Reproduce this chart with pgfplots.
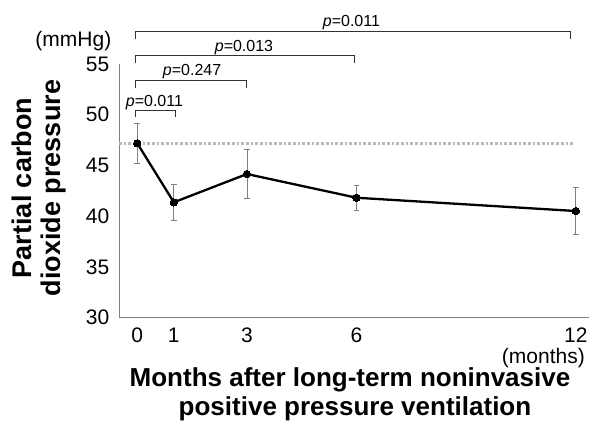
\documentclass[border=0pt]{standalone}
\usepackage{fontspec}
\setmainfont{Liberation Sans}
\usepackage{pgfplots}
\pgfplotsset{compat=1.18}

% mean and half error of PaCO2 at each visit
\pgfplotstableread{
x   y      e
0   47.18  2.00
1   41.36  1.76
3   44.15  2.40
6   41.81  1.20
12  40.50  2.35
}\paco

\begin{document}
\begin{tikzpicture}[x=1pt,y=1pt]
\begin{axis}[
    at={(119pt,105.5pt)}, anchor=south west,
    scale only axis, width=470pt, height=253.5pt,
    xmin=-0.5, xmax=12.36, ymin=30, ymax=55,
    axis x line*=bottom, axis y line*=left,
    axis line style={-, draw=gray, line width=0.8pt},
    xtick={0,1,3,6,12}, ytick={30,35,40,45,50,55},
    major tick length=0pt,
    tick label style={font=\fontsize{21}{21}\selectfont},
    xticklabel style={inner sep=0pt, anchor=north, yshift=-10pt},
    yticklabel style={inner sep=0pt, anchor=east, xshift=-9.5pt},
    /pgf/number format/assume math mode=true,
    clip=false,
]
  % baseline reference
  \addplot[gray!55, line width=2.7pt, dash pattern=on 2.7pt off 2pt] coordinates {(-0.5,47.18) (11.92,47.18)};
  % error bars
  \addplot[draw=none, mark=none,
    error bars/.cd, y dir=both, y explicit,
    error bar style={draw=gray, line width=0.8pt},
    error mark options={rotate=90, mark size=2.8pt, draw=gray, line width=0.8pt}]
    table[x=x, y=y, y error=e] {\paco};
  \addplot[black, line width=2.3pt, mark=*, mark size=3.7pt, mark options={solid, line width=0pt}]
    table[x=x, y=y] {\paco};

  % comparison brackets
  \draw[black!80, line width=1pt] (axis cs:-0.05,57.44) |- (axis cs:11.85,58.18) -- (axis cs:11.85,57.44);
  \draw[black!80, line width=1pt] (axis cs:-0.05,55.07) |- (axis cs:5.93,55.79) -- (axis cs:5.93,55.07);
  \draw[black!80, line width=1pt] (axis cs:-0.05,52.60) |- (axis cs:3.00,53.35) -- (axis cs:3.00,52.60);
  \draw[black!80, line width=1pt] (axis cs:-0.05,49.74) |- (axis cs:1.05,50.37) -- (axis cs:1.05,49.74);
  \begin{scope}[every node/.style={anchor=base, inner sep=0pt, font=\fontsize{16}{16}\selectfont}]
    \node at (axis cs:5.86,58.68) {\textit{p}=0.011};
    \node at (axis cs:2.92,56.28) {\textit{p}=0.013};
    \node at (axis cs:1.50,53.82) {\textit{p}=0.247};
    \node at (axis cs:0.47,50.79) {\textit{p}=0.011};
  \end{scope}
\end{axis}

% units and axis titles
\node[anchor=east, inner sep=0pt, font=\fontsize{21}{21}\selectfont] at (111.5,382) {(mmHg)};
\node[anchor=east, inner sep=0pt, font=\fontsize{21}{21}\selectfont] at (585,65) {(months)};
\node[anchor=base, inner sep=0pt, font=\fontsize{26}{26}\selectfont\bfseries] at (350,36) {Months after long-term noninvasive};
\node[anchor=base, inner sep=0pt, font=\fontsize{26}{26}\selectfont\bfseries] at (355,8) {positive pressure ventilation};
\node[anchor=base, rotate=90, inner sep=0pt, font=\fontsize{27}{27}\selectfont\bfseries] at (31.5,235) {Partial carbon};
\node[anchor=base, rotate=90, inner sep=0pt, font=\fontsize{27}{27}\selectfont\bfseries] at (60,235) {dioxide pressure};

\pgfresetboundingbox
\useasboundingbox (0,0) rectangle (589,423);
\end{tikzpicture}
\end{document}
